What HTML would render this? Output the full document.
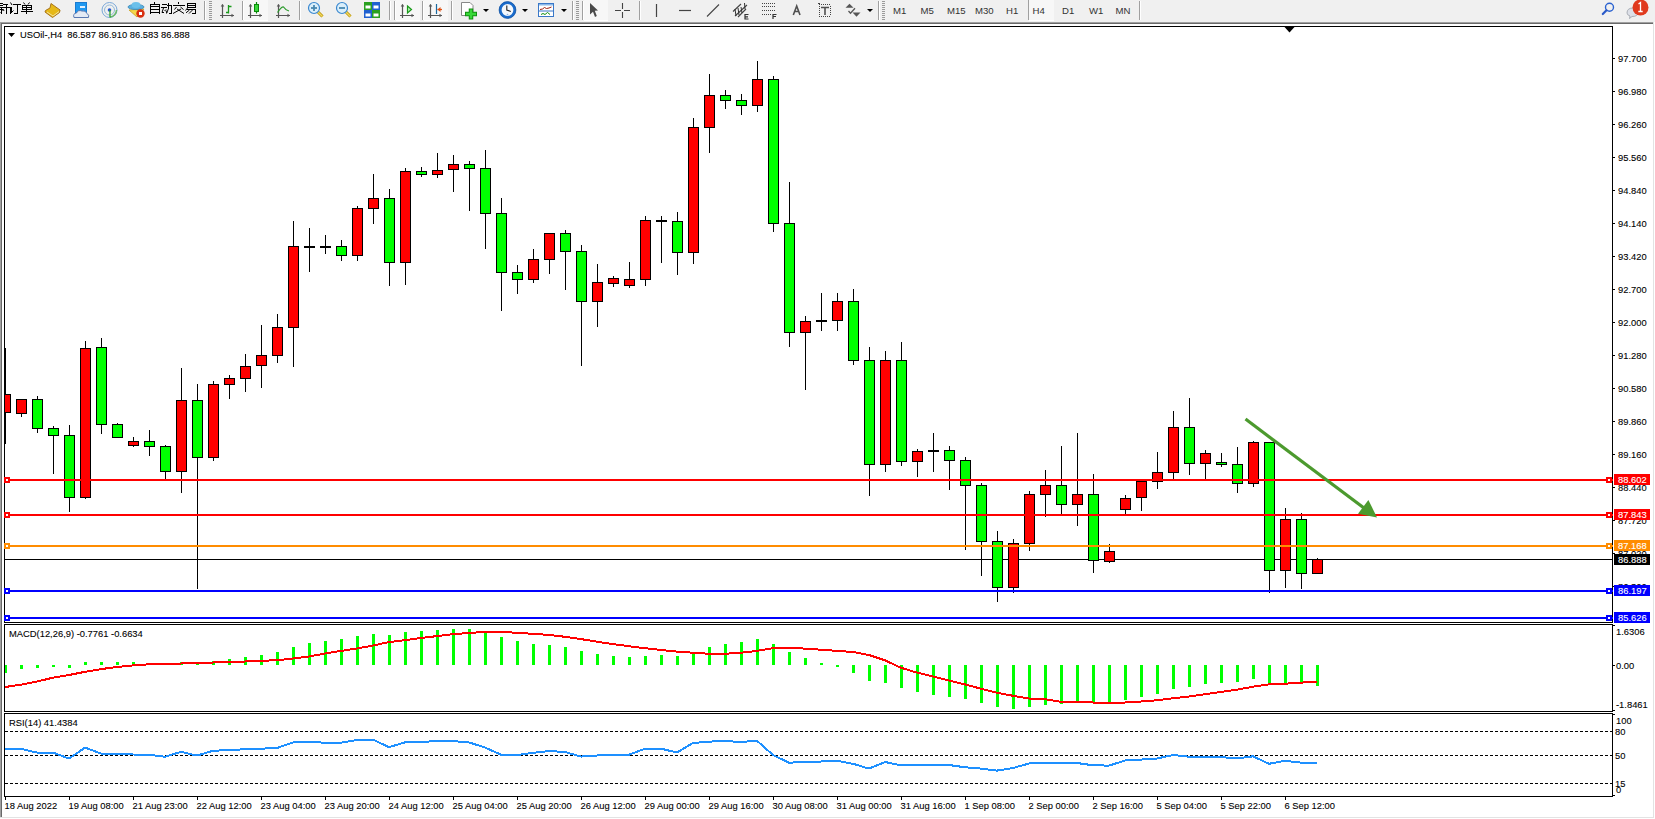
<!DOCTYPE html><html><head><meta charset="utf-8"><style>html,body{margin:0;padding:0;width:1655px;height:819px;overflow:hidden;background:#fff}svg{display:block}text{font-family:"Liberation Sans",sans-serif}</style></head><body>
<svg width="1655" height="819" viewBox="0 0 1655 819">
<rect x="0" y="0" width="1655" height="22" fill="#f0f0f0"/>
<g shape-rendering="crispEdges">
<rect x="0" y="22" width="1654" height="1" fill="#a0a0a0"/>
<rect x="1" y="23" width="1652" height="1" fill="#696969"/>
<rect x="0" y="22" width="1" height="796" fill="#a0a0a0"/>
<rect x="1" y="23" width="1" height="794" fill="#696969"/>
<rect x="1653" y="22" width="1" height="796" fill="#e3e3e3"/>
<rect x="0" y="817" width="1654" height="1" fill="#e3e3e3"/>
<rect x="4.5" y="26.5" width="1608" height="596" fill="none" stroke="#000" stroke-width="1"/>
<rect x="4.5" y="624.5" width="1608" height="87" fill="none" stroke="#000" stroke-width="1"/>
<rect x="4.5" y="713.5" width="1608" height="83" fill="none" stroke="#000" stroke-width="1"/>
</g>
<g>
<path d="M0 3.5H3M0 5.5H3M0 7.5H12M0 9.5H3M1.5 7V14M3 4.5H8M6.5 5V14M10.5 7V14" stroke="#000" stroke-width="1" fill="none" shape-rendering="crispEdges"/>
<path d="M0.5 12.5L2.5 10.5 M3 9L4 11" stroke="#000" stroke-width="1" fill="none"/>
<path d="M11.5 8V13M13 4.5H21M17.5 4V14M14 13.5H18" stroke="#000" stroke-width="1" fill="none" shape-rendering="crispEdges"/>
<path d="M10.5 2.5L12 5 M11.5 12.5L13.5 10.5" stroke="#000" stroke-width="1" fill="none"/>
<path d="M22 5.5H32M22 7.5H32M22 9.5H32M22.5 5V10M31.5 5V10M21 11.5H33M26.5 5V14" stroke="#000" stroke-width="1" fill="none" shape-rendering="crispEdges"/>
<path d="M23.5 2.5L25 4.5 M29.5 2.5L28 4.5" stroke="#000" stroke-width="1" fill="none"/>
<polygon points="51,3.5 60,10 59.5,12.5 52.5,17.5 45,12 45.5,10.5 50,8" fill="#e6b817" stroke="#a8741a" stroke-width="1"/>
<path d="M47 12 L53 16 L59 11.5" stroke="#f4e4a0" stroke-width="1" fill="none"/>
<rect x="75.5" y="2.5" width="11" height="10" fill="#1e98f0" stroke="#1a7ad0" stroke-width="1"/>
<rect x="80" y="6" width="5" height="2" fill="#e0f0ff"/>
<path d="M74 17.5 Q72.5 13.5 76.5 13 Q78 9.5 82 11 Q85.5 10 87 13.5 Q89.5 15 88.5 17.5 Z" fill="#e4eaf4" stroke="#5a78b0" stroke-width="1"/>
<circle cx="109.5" cy="10" r="7.5" fill="none" stroke="#7aa8d8" stroke-width="1"/>
<circle cx="109.5" cy="10" r="5" fill="none" stroke="#90b8d8" stroke-width="1"/>
<path d="M116.5 10 A7 7 0 0 1 110 17" stroke="#6ab86a" stroke-width="1.5" fill="none"/>
<circle cx="109.5" cy="10" r="1.8" fill="#2a5ad0"/>
<path d="M110 10 V17.5" stroke="#2aa02a" stroke-width="1.3"/>
<polygon points="129,10 144,9 137,17" fill="#f4d84a" stroke="#c8a020" stroke-width="0.8"/>
<ellipse cx="136" cy="7" rx="8" ry="2.6" fill="#5ab0e0" stroke="#3a88b8" stroke-width="0.8"/>
<ellipse cx="136" cy="5" rx="4.5" ry="3" fill="#6cc0ea"/>
<circle cx="140.5" cy="13.5" r="4.2" fill="#d83010"/>
<rect x="139" y="12" width="3" height="3" fill="#fff"/>
<path d="M154.5 2V4M150.5 4V14M159.5 4V14M150 4.5H160M150 6.5H160M150 9.5H160M150 12.5H160M162 4.5H167M161 7.5H167M167 5.5H172M171.5 5V14M169 13.5H172M168.5 3V9M178.5 2V4M173 5.5H185M187 3.5H196M187 5.5H196M187 7.5H196M187.5 3V8M195.5 3V8M187 9.5H196M195.5 9V14M192 13.5H196" stroke="#000" stroke-width="1" fill="none" shape-rendering="crispEdges"/>
<path d="M163.5 8L162 12.5 H164 M164.5 11L166 9.5 M166 10.5L166.8 13 M168.5 8.5L166.5 13.5 M176.5 7L174.5 9.5 M180.5 7L183.5 9.5 M177 9L184 13.5 M181 9L173 13.5 M187.5 8L185.5 10.5 M189.5 10L186 12.8 M192.5 10L189 13.5" stroke="#000" stroke-width="1" fill="none"/>
<rect x="204" y="1" width="1" height="19" fill="#a0a0a0"/><rect x="205" y="1" width="1" height="19" fill="#ffffff"/>
<rect x="209" y="1" width="3" height="1" fill="#9a9a9a"/>
<rect x="209" y="3" width="3" height="1" fill="#9a9a9a"/>
<rect x="209" y="5" width="3" height="1" fill="#9a9a9a"/>
<rect x="209" y="7" width="3" height="1" fill="#9a9a9a"/>
<rect x="209" y="9" width="3" height="1" fill="#9a9a9a"/>
<rect x="209" y="11" width="3" height="1" fill="#9a9a9a"/>
<rect x="209" y="13" width="3" height="1" fill="#9a9a9a"/>
<rect x="209" y="15" width="3" height="1" fill="#9a9a9a"/>
<rect x="209" y="17" width="3" height="1" fill="#9a9a9a"/>
<rect x="209" y="19" width="3" height="1" fill="#9a9a9a"/>
<path d="M222.5 4.5 V18 M220 15.5 H234" stroke="#555555" stroke-width="1.2" fill="none"/>
<path d="M220.7 6.5 L222.5 4 L224.3 6.5 Z M231.5 13.7 L234 15.5 L231.5 17.3 Z" fill="#555555"/>
<path d="M228.5 5 V13.5 M228.5 6.5 H231.5 M226 12.5 H228.5" stroke="#1a9a1a" stroke-width="1.3" fill="none"/>
<rect x="242" y="1" width="1" height="19" fill="#a0a0a0"/><rect x="243" y="1" width="1" height="19" fill="#ffffff"/>
<rect x="244" y="0" width="24" height="21" fill="#f7f7f7"/><rect x="244" y="20" width="24" height="1" fill="#ffffff"/>
<path d="M250.5 4.5 V18 M248 15.5 H262" stroke="#555555" stroke-width="1.2" fill="none"/>
<path d="M248.7 6.5 L250.5 4 L252.3 6.5 Z M259.5 13.7 L262 15.5 L259.5 17.3 Z" fill="#555555"/>
<path d="M256.5 2 V13.5" stroke="#0a8a0a" stroke-width="1.2"/><rect x="254.5" y="4.5" width="4" height="7" fill="#3ad83a" stroke="#0a8a0a" stroke-width="1"/>
<path d="M278.5 4.5 V18 M276 15.5 H290" stroke="#555555" stroke-width="1.2" fill="none"/>
<path d="M276.7 6.5 L278.5 4 L280.3 6.5 Z M287.5 13.7 L290 15.5 L287.5 17.3 Z" fill="#555555"/>
<path d="M277.5 12.5 Q282.5 5 284 7.5 T289 11" stroke="#2a9a2a" stroke-width="1.2" fill="none"/>
<rect x="299" y="1" width="1" height="19" fill="#a0a0a0"/><rect x="300" y="1" width="1" height="19" fill="#ffffff"/>
<path d="M317.5 11.5 L322.5 16.5" stroke="#b89000" stroke-width="3"/><path d="M317.5 11.5 L322.5 16.5" stroke="#f0d860" stroke-width="1.5"/>
<circle cx="314" cy="8" r="5.5" fill="#daeefa" stroke="#3a88d0" stroke-width="1.2"/>
<path d="M311 8 H317" stroke="#4a88b0" stroke-width="1.8"/>
<path d="M314 5 V11" stroke="#4a88b0" stroke-width="1.8"/>
<path d="M345.5 11.5 L350.5 16.5" stroke="#b89000" stroke-width="3"/><path d="M345.5 11.5 L350.5 16.5" stroke="#f0d860" stroke-width="1.5"/>
<circle cx="342" cy="8" r="5.5" fill="#daeefa" stroke="#3a88d0" stroke-width="1.2"/>
<path d="M339 8 H345" stroke="#4a88b0" stroke-width="1.8"/>
<rect x="364" y="2" width="8" height="8" fill="#2aa020"/><rect x="365.5" y="5.5" width="5" height="3" fill="#fff"/>
<rect x="372" y="2" width="8" height="8" fill="#2060d0"/><rect x="373.5" y="5.5" width="5" height="3" fill="#fff"/>
<rect x="364" y="10" width="8" height="8" fill="#2060d0"/><rect x="365.5" y="13.5" width="5" height="3" fill="#fff"/>
<rect x="372" y="10" width="8" height="8" fill="#2aa020"/><rect x="373.5" y="13.5" width="5" height="3" fill="#fff"/>
<rect x="389" y="1" width="1" height="19" fill="#a0a0a0"/><rect x="390" y="1" width="1" height="19" fill="#ffffff"/>
<rect x="394" y="1" width="1" height="19" fill="#a0a0a0"/><rect x="395" y="1" width="1" height="19" fill="#ffffff"/>
<rect x="396" y="0" width="24" height="21" fill="#f7f7f7"/><rect x="396" y="20" width="24" height="1" fill="#ffffff"/>
<path d="M402.5 4.5 V18 M400 15.5 H414" stroke="#555555" stroke-width="1.2" fill="none"/>
<path d="M400.7 6.5 L402.5 4 L404.3 6.5 Z M411.5 13.7 L414 15.5 L411.5 17.3 Z" fill="#555555"/>
<polygon points="407.5,6 411.5,9.5 407.5,13" fill="#b0f0b0" stroke="#1a9a1a" stroke-width="1.2"/>
<rect x="422" y="1" width="1" height="19" fill="#a0a0a0"/><rect x="423" y="1" width="1" height="19" fill="#ffffff"/>
<rect x="424" y="0" width="24" height="21" fill="#f7f7f7"/><rect x="424" y="20" width="24" height="1" fill="#ffffff"/>
<path d="M430.5 4.5 V18 M428 15.5 H442" stroke="#555555" stroke-width="1.2" fill="none"/>
<path d="M428.7 6.5 L430.5 4 L432.3 6.5 Z M439.5 13.7 L442 15.5 L439.5 17.3 Z" fill="#555555"/>
<path d="M436.5 4 V14" stroke="#1a6aa0" stroke-width="1.2"/><path d="M437.5 9.5 H442" stroke="#e05010" stroke-width="1.3"/><polygon points="437.5,9.5 440.5,7 440.5,12" fill="#e05010"/>
<rect x="451" y="1" width="1" height="19" fill="#a0a0a0"/><rect x="452" y="1" width="1" height="19" fill="#ffffff"/>
<path d="M461.5 2.5 H470 L473 5.5 V15.5 H461.5 Z" fill="#fff" stroke="#888" stroke-width="1"/>
<path d="M465 14 H477 M471 8.5 V19.5" stroke="#109010" stroke-width="4.5"/><path d="M466 14 H476 M471 9.5 V18.5" stroke="#38d838" stroke-width="2.5"/>
<polygon points="483,9 489,9 486,12" fill="#000"/>
<circle cx="507.5" cy="10" r="7.2" fill="#f4f8fc" stroke="#1a6ccc" stroke-width="2.6"/><circle cx="507.5" cy="10" r="8.4" fill="none" stroke="#0c4c9c" stroke-width="0.7"/><path d="M506.8 5.5 V10 L510.8 11.5" stroke="#222" stroke-width="1.1" fill="none"/><circle cx="507.5" cy="14.5" r="0.8" fill="#8ab4e8"/>
<polygon points="522,9 528,9 525,12" fill="#000"/>
<rect x="538.5" y="3.5" width="15" height="13" fill="#fff" stroke="#3a78c8" stroke-width="1"/><rect x="539" y="4" width="14" height="1.5" fill="#8ab8e8"/><path d="M539 11 H553" stroke="#3a78c8" stroke-width="1"/>
<path d="M540 9.5 L542.5 9 L544.5 7.5 L546.5 8.5 L549 8 L551.5 7" stroke="#a02010" stroke-width="1" fill="none"/><path d="M541 14.5 L543 13.5 L545 14.5 L547.5 12.5 L550 14.5" stroke="#109010" stroke-width="1" fill="none"/>
<polygon points="561,9 567,9 564,12" fill="#000"/>
<rect x="572" y="1" width="1" height="19" fill="#a0a0a0"/><rect x="573" y="1" width="1" height="19" fill="#ffffff"/>
<rect x="576" y="1" width="3" height="1" fill="#9a9a9a"/>
<rect x="576" y="3" width="3" height="1" fill="#9a9a9a"/>
<rect x="576" y="5" width="3" height="1" fill="#9a9a9a"/>
<rect x="576" y="7" width="3" height="1" fill="#9a9a9a"/>
<rect x="576" y="9" width="3" height="1" fill="#9a9a9a"/>
<rect x="576" y="11" width="3" height="1" fill="#9a9a9a"/>
<rect x="576" y="13" width="3" height="1" fill="#9a9a9a"/>
<rect x="576" y="15" width="3" height="1" fill="#9a9a9a"/>
<rect x="576" y="17" width="3" height="1" fill="#9a9a9a"/>
<rect x="576" y="19" width="3" height="1" fill="#9a9a9a"/>
<rect x="582" y="1" width="1" height="19" fill="#a0a0a0"/><rect x="583" y="1" width="1" height="19" fill="#ffffff"/>
<rect x="584" y="0" width="24" height="21" fill="#f7f7f7"/><rect x="584" y="20" width="24" height="1" fill="#ffffff"/>
<polygon points="590,3 598,10.5 594.8,10.8 596.8,16 595,17 593,11.8 590,14.5" fill="#4a4a4a"/>
<path d="M622.5 3 V9 M622.5 12 V18 M615 10.5 H621 M624 10.5 H630" stroke="#444" stroke-width="1.1"/>
<rect x="639" y="1" width="1" height="19" fill="#a0a0a0"/><rect x="640" y="1" width="1" height="19" fill="#ffffff"/>
<path d="M656.5 4 V17" stroke="#444" stroke-width="1.2"/>
<path d="M679 10.5 H691" stroke="#444" stroke-width="1.2"/>
<path d="M707 16.5 L719 4.5" stroke="#444" stroke-width="1.1"/>
<path d="M733 11.5 L741 4 M735 16 L747 5 M738 17 L746 9" stroke="#444" stroke-width="1.1"/><path d="M735 9 L736 16 M738 8 L739 15 M741 7 L742 13 M744.5 3 L745 9" stroke="#333" stroke-width="1"/>
<path d="M748.5 14.5 H745 V19 H748.5 M745 16.8 H748" stroke="#333" stroke-width="1.2" fill="none"/>
<path d="M762 3.5 H775 M762 6.5 H775 M762 10.5 H775 M762 14.5 H771" stroke="#444" stroke-width="1" stroke-dasharray="1,1" fill="none"/>
<path d="M776.5 14.5 H773 V19 M773 16.5 H776" stroke="#333" stroke-width="1.2" fill="none"/>
<path d="M793.3 15 L796.7 6 L800 15 M794.6 11.5 H798.8" stroke="#505050" stroke-width="1.6" fill="none"/>
<g fill="#444" shape-rendering="crispEdges"><rect x="819" y="4" width="1" height="1"/><rect x="819" y="16" width="1" height="1"/><rect x="821" y="4" width="1" height="1"/><rect x="821" y="16" width="1" height="1"/><rect x="823" y="4" width="1" height="1"/><rect x="823" y="16" width="1" height="1"/><rect x="825" y="4" width="1" height="1"/><rect x="825" y="16" width="1" height="1"/><rect x="827" y="4" width="1" height="1"/><rect x="827" y="16" width="1" height="1"/><rect x="829" y="4" width="1" height="1"/><rect x="829" y="16" width="1" height="1"/><rect x="819" y="6" width="1" height="1"/><rect x="830" y="6" width="1" height="1"/><rect x="819" y="8" width="1" height="1"/><rect x="830" y="8" width="1" height="1"/><rect x="819" y="10" width="1" height="1"/><rect x="830" y="10" width="1" height="1"/><rect x="819" y="12" width="1" height="1"/><rect x="830" y="12" width="1" height="1"/><rect x="819" y="14" width="1" height="1"/><rect x="830" y="14" width="1" height="1"/><rect x="818" y="3" width="2" height="1"/></g>
<path d="M821 7.5 H829 M825 7.5 V15" stroke="#505050" stroke-width="1.6" fill="none"/>
<polygon points="849.5,3.8 853.5,7.8 845.5,7.8" fill="#555"/><polygon points="852.5,12.5 860.5,12.5 856.5,16.8" fill="#555"/><path d="M848.5 11 L850.5 13.2 L855 8.2" stroke="#555" stroke-width="1.3" fill="none"/>
<polygon points="867,9 873,9 870,12" fill="#000"/>
<rect x="878" y="1" width="1" height="19" fill="#a0a0a0"/><rect x="879" y="1" width="1" height="19" fill="#ffffff"/>
<rect x="882" y="1" width="3" height="1" fill="#9a9a9a"/>
<rect x="882" y="3" width="3" height="1" fill="#9a9a9a"/>
<rect x="882" y="5" width="3" height="1" fill="#9a9a9a"/>
<rect x="882" y="7" width="3" height="1" fill="#9a9a9a"/>
<rect x="882" y="9" width="3" height="1" fill="#9a9a9a"/>
<rect x="882" y="11" width="3" height="1" fill="#9a9a9a"/>
<rect x="882" y="13" width="3" height="1" fill="#9a9a9a"/>
<rect x="882" y="15" width="3" height="1" fill="#9a9a9a"/>
<rect x="882" y="17" width="3" height="1" fill="#9a9a9a"/>
<rect x="882" y="19" width="3" height="1" fill="#9a9a9a"/>
<rect x="1028" y="0" width="1" height="20" fill="#a0a0a0"/>
<rect x="1029" y="0" width="25" height="21" fill="#f7f7f7"/><rect x="1029" y="20" width="25" height="1" fill="#ffffff"/>
<text x="893" y="13.5" font-size="9.6" fill="#333">M1</text>
<text x="920.5" y="13.5" font-size="9.6" fill="#333">M5</text>
<text x="947" y="13.5" font-size="9.6" fill="#333">M15</text>
<text x="975" y="13.5" font-size="9.6" fill="#333">M30</text>
<text x="1006" y="13.5" font-size="9.6" fill="#333">H1</text>
<text x="1032.5" y="13.5" font-size="9.6" fill="#333">H4</text>
<text x="1062" y="13.5" font-size="9.6" fill="#333">D1</text>
<text x="1089" y="13.5" font-size="9.6" fill="#333">W1</text>
<text x="1115.5" y="13.5" font-size="9.6" fill="#333">MN</text>
<!--H4HL-->
<rect x="1139" y="1" width="1" height="19" fill="#a0a0a0"/><rect x="1140" y="1" width="1" height="19" fill="#ffffff"/>
<circle cx="1609.5" cy="7.3" r="4" fill="none" stroke="#2a62d0" stroke-width="1.4"/><path d="M1606.5 10.3 L1602.8 14" stroke="#2a5ac8" stroke-width="2.2" stroke-linecap="round"/>
<path d="M1627 13 Q1627 8 1633 8 Q1638 8 1638 12.5 Q1638 16.5 1632 16.5 L1629.5 18.5 L1630 16 Q1627 15 1627 13Z" fill="#dde0e8" stroke="#9aa0a8" stroke-width="0.8"/>
<circle cx="1640.5" cy="7.5" r="8" fill="#e03a1e"/><path d="M1638.5 4 L1640.5 2.5 V11.5 M1638.3 11.5 H1642.7" stroke="#fff" stroke-width="1.3" fill="none"/>
</g>
<defs><clipPath id="cm"><rect x="5" y="27" width="1607" height="595"/></clipPath><clipPath id="cd"><rect x="5" y="625" width="1607" height="86"/></clipPath><clipPath id="cr"><rect x="5" y="714" width="1607" height="82"/></clipPath></defs>
<g clip-path="url(#cm)" shape-rendering="crispEdges">
<rect x="5" y="559" width="1607" height="1" fill="#000"/>
<rect x="5" y="348" width="1" height="96" fill="#000"/>
<rect x="0" y="394" width="11" height="19" fill="#000"/>
<rect x="1" y="395" width="9" height="17" fill="#ff0000"/>
<rect x="21" y="399" width="1" height="18" fill="#000"/>
<rect x="16" y="399" width="11" height="15" fill="#000"/>
<rect x="17" y="400" width="9" height="13" fill="#ff0000"/>
<rect x="37" y="396" width="1" height="37" fill="#000"/>
<rect x="32" y="399" width="11" height="30" fill="#000"/>
<rect x="33" y="400" width="9" height="28" fill="#00ff00"/>
<rect x="53" y="426" width="1" height="48" fill="#000"/>
<rect x="48" y="428" width="11" height="8" fill="#000"/>
<rect x="49" y="429" width="9" height="6" fill="#00ff00"/>
<rect x="69" y="425" width="1" height="87" fill="#000"/>
<rect x="64" y="435" width="11" height="63" fill="#000"/>
<rect x="65" y="436" width="9" height="61" fill="#00ff00"/>
<rect x="85" y="341" width="1" height="158" fill="#000"/>
<rect x="80" y="348" width="11" height="150" fill="#000"/>
<rect x="81" y="349" width="9" height="148" fill="#ff0000"/>
<rect x="101" y="338" width="1" height="96" fill="#000"/>
<rect x="96" y="347" width="11" height="78" fill="#000"/>
<rect x="97" y="348" width="9" height="76" fill="#00ff00"/>
<rect x="117" y="423" width="1" height="15" fill="#000"/>
<rect x="112" y="424" width="11" height="14" fill="#000"/>
<rect x="113" y="425" width="9" height="12" fill="#00ff00"/>
<rect x="133" y="437" width="1" height="10" fill="#000"/>
<rect x="128" y="441" width="11" height="5" fill="#000"/>
<rect x="129" y="442" width="9" height="3" fill="#ff0000"/>
<rect x="149" y="430" width="1" height="26" fill="#000"/>
<rect x="144" y="441" width="11" height="6" fill="#000"/>
<rect x="145" y="442" width="9" height="4" fill="#00ff00"/>
<rect x="165" y="445" width="1" height="34" fill="#000"/>
<rect x="160" y="446" width="11" height="26" fill="#000"/>
<rect x="161" y="447" width="9" height="24" fill="#00ff00"/>
<rect x="181" y="368" width="1" height="125" fill="#000"/>
<rect x="176" y="400" width="11" height="72" fill="#000"/>
<rect x="177" y="401" width="9" height="70" fill="#ff0000"/>
<rect x="197" y="384" width="1" height="205" fill="#000"/>
<rect x="192" y="400" width="11" height="58" fill="#000"/>
<rect x="193" y="401" width="9" height="56" fill="#00ff00"/>
<rect x="213" y="381" width="1" height="80" fill="#000"/>
<rect x="208" y="384" width="11" height="74" fill="#000"/>
<rect x="209" y="385" width="9" height="72" fill="#ff0000"/>
<rect x="229" y="375" width="1" height="24" fill="#000"/>
<rect x="224" y="378" width="11" height="7" fill="#000"/>
<rect x="225" y="379" width="9" height="5" fill="#ff0000"/>
<rect x="245" y="354" width="1" height="38" fill="#000"/>
<rect x="240" y="366" width="11" height="13" fill="#000"/>
<rect x="241" y="367" width="9" height="11" fill="#ff0000"/>
<rect x="261" y="325" width="1" height="63" fill="#000"/>
<rect x="256" y="355" width="11" height="11" fill="#000"/>
<rect x="257" y="356" width="9" height="9" fill="#ff0000"/>
<rect x="277" y="314" width="1" height="49" fill="#000"/>
<rect x="272" y="327" width="11" height="29" fill="#000"/>
<rect x="273" y="328" width="9" height="27" fill="#ff0000"/>
<rect x="293" y="221" width="1" height="146" fill="#000"/>
<rect x="288" y="246" width="11" height="82" fill="#000"/>
<rect x="289" y="247" width="9" height="80" fill="#ff0000"/>
<rect x="309" y="228" width="1" height="44" fill="#000"/>
<rect x="304" y="246" width="11" height="2" fill="#000"/>
<rect x="325" y="235" width="1" height="19" fill="#000"/>
<rect x="320" y="246" width="11" height="2" fill="#000"/>
<rect x="341" y="240" width="1" height="21" fill="#000"/>
<rect x="336" y="246" width="11" height="10" fill="#000"/>
<rect x="337" y="247" width="9" height="8" fill="#00ff00"/>
<rect x="357" y="206" width="1" height="55" fill="#000"/>
<rect x="352" y="208" width="11" height="48" fill="#000"/>
<rect x="353" y="209" width="9" height="46" fill="#ff0000"/>
<rect x="373" y="174" width="1" height="50" fill="#000"/>
<rect x="368" y="198" width="11" height="11" fill="#000"/>
<rect x="369" y="199" width="9" height="9" fill="#ff0000"/>
<rect x="389" y="189" width="1" height="97" fill="#000"/>
<rect x="384" y="198" width="11" height="65" fill="#000"/>
<rect x="385" y="199" width="9" height="63" fill="#00ff00"/>
<rect x="405" y="168" width="1" height="117" fill="#000"/>
<rect x="400" y="171" width="11" height="92" fill="#000"/>
<rect x="401" y="172" width="9" height="90" fill="#ff0000"/>
<rect x="421" y="167" width="1" height="10" fill="#000"/>
<rect x="416" y="171" width="11" height="4" fill="#000"/>
<rect x="417" y="172" width="9" height="2" fill="#00ff00"/>
<rect x="437" y="153" width="1" height="25" fill="#000"/>
<rect x="432" y="170" width="11" height="5" fill="#000"/>
<rect x="433" y="171" width="9" height="3" fill="#ff0000"/>
<rect x="453" y="155" width="1" height="37" fill="#000"/>
<rect x="448" y="164" width="11" height="6" fill="#000"/>
<rect x="449" y="165" width="9" height="4" fill="#ff0000"/>
<rect x="469" y="161" width="1" height="50" fill="#000"/>
<rect x="464" y="164" width="11" height="5" fill="#000"/>
<rect x="465" y="165" width="9" height="3" fill="#00ff00"/>
<rect x="485" y="150" width="1" height="99" fill="#000"/>
<rect x="480" y="168" width="11" height="46" fill="#000"/>
<rect x="481" y="169" width="9" height="44" fill="#00ff00"/>
<rect x="501" y="198" width="1" height="113" fill="#000"/>
<rect x="496" y="213" width="11" height="60" fill="#000"/>
<rect x="497" y="214" width="9" height="58" fill="#00ff00"/>
<rect x="517" y="265" width="1" height="29" fill="#000"/>
<rect x="512" y="272" width="11" height="8" fill="#000"/>
<rect x="513" y="273" width="9" height="6" fill="#00ff00"/>
<rect x="533" y="249" width="1" height="34" fill="#000"/>
<rect x="528" y="259" width="11" height="21" fill="#000"/>
<rect x="529" y="260" width="9" height="19" fill="#ff0000"/>
<rect x="549" y="233" width="1" height="41" fill="#000"/>
<rect x="544" y="233" width="11" height="27" fill="#000"/>
<rect x="545" y="234" width="9" height="25" fill="#ff0000"/>
<rect x="565" y="230" width="1" height="60" fill="#000"/>
<rect x="560" y="233" width="11" height="19" fill="#000"/>
<rect x="561" y="234" width="9" height="17" fill="#00ff00"/>
<rect x="581" y="245" width="1" height="121" fill="#000"/>
<rect x="576" y="251" width="11" height="51" fill="#000"/>
<rect x="577" y="252" width="9" height="49" fill="#00ff00"/>
<rect x="597" y="264" width="1" height="63" fill="#000"/>
<rect x="592" y="282" width="11" height="20" fill="#000"/>
<rect x="593" y="283" width="9" height="18" fill="#ff0000"/>
<rect x="613" y="276" width="1" height="11" fill="#000"/>
<rect x="608" y="278" width="11" height="6" fill="#000"/>
<rect x="609" y="279" width="9" height="4" fill="#ff0000"/>
<rect x="629" y="262" width="1" height="26" fill="#000"/>
<rect x="624" y="279" width="11" height="7" fill="#000"/>
<rect x="625" y="280" width="9" height="5" fill="#ff0000"/>
<rect x="645" y="216" width="1" height="70" fill="#000"/>
<rect x="640" y="220" width="11" height="60" fill="#000"/>
<rect x="641" y="221" width="9" height="58" fill="#ff0000"/>
<rect x="661" y="216" width="1" height="47" fill="#000"/>
<rect x="656" y="220" width="11" height="2" fill="#000"/>
<rect x="677" y="212" width="1" height="63" fill="#000"/>
<rect x="672" y="221" width="11" height="32" fill="#000"/>
<rect x="673" y="222" width="9" height="30" fill="#00ff00"/>
<rect x="693" y="118" width="1" height="146" fill="#000"/>
<rect x="688" y="127" width="11" height="126" fill="#000"/>
<rect x="689" y="128" width="9" height="124" fill="#ff0000"/>
<rect x="709" y="74" width="1" height="79" fill="#000"/>
<rect x="704" y="95" width="11" height="33" fill="#000"/>
<rect x="705" y="96" width="9" height="31" fill="#ff0000"/>
<rect x="725" y="90" width="1" height="19" fill="#000"/>
<rect x="720" y="95" width="11" height="6" fill="#000"/>
<rect x="721" y="96" width="9" height="4" fill="#00ff00"/>
<rect x="741" y="94" width="1" height="21" fill="#000"/>
<rect x="736" y="100" width="11" height="6" fill="#000"/>
<rect x="737" y="101" width="9" height="4" fill="#00ff00"/>
<rect x="757" y="61" width="1" height="51" fill="#000"/>
<rect x="752" y="79" width="11" height="27" fill="#000"/>
<rect x="753" y="80" width="9" height="25" fill="#ff0000"/>
<rect x="773" y="76" width="1" height="156" fill="#000"/>
<rect x="768" y="79" width="11" height="145" fill="#000"/>
<rect x="769" y="80" width="9" height="143" fill="#00ff00"/>
<rect x="789" y="182" width="1" height="165" fill="#000"/>
<rect x="784" y="223" width="11" height="110" fill="#000"/>
<rect x="785" y="224" width="9" height="108" fill="#00ff00"/>
<rect x="805" y="316" width="1" height="74" fill="#000"/>
<rect x="800" y="321" width="11" height="12" fill="#000"/>
<rect x="801" y="322" width="9" height="10" fill="#ff0000"/>
<rect x="821" y="293" width="1" height="38" fill="#000"/>
<rect x="816" y="320" width="11" height="2" fill="#000"/>
<rect x="837" y="293" width="1" height="38" fill="#000"/>
<rect x="832" y="301" width="11" height="20" fill="#000"/>
<rect x="833" y="302" width="9" height="18" fill="#ff0000"/>
<rect x="853" y="289" width="1" height="76" fill="#000"/>
<rect x="848" y="301" width="11" height="60" fill="#000"/>
<rect x="849" y="302" width="9" height="58" fill="#00ff00"/>
<rect x="869" y="347" width="1" height="149" fill="#000"/>
<rect x="864" y="360" width="11" height="105" fill="#000"/>
<rect x="865" y="361" width="9" height="103" fill="#00ff00"/>
<rect x="885" y="351" width="1" height="121" fill="#000"/>
<rect x="880" y="360" width="11" height="105" fill="#000"/>
<rect x="881" y="361" width="9" height="103" fill="#ff0000"/>
<rect x="901" y="342" width="1" height="124" fill="#000"/>
<rect x="896" y="360" width="11" height="102" fill="#000"/>
<rect x="897" y="361" width="9" height="100" fill="#00ff00"/>
<rect x="917" y="449" width="1" height="28" fill="#000"/>
<rect x="912" y="451" width="11" height="11" fill="#000"/>
<rect x="913" y="452" width="9" height="9" fill="#ff0000"/>
<rect x="933" y="433" width="1" height="39" fill="#000"/>
<rect x="928" y="450" width="11" height="2" fill="#000"/>
<rect x="949" y="446" width="1" height="44" fill="#000"/>
<rect x="944" y="450" width="11" height="11" fill="#000"/>
<rect x="945" y="451" width="9" height="9" fill="#00ff00"/>
<rect x="965" y="457" width="1" height="93" fill="#000"/>
<rect x="960" y="460" width="11" height="26" fill="#000"/>
<rect x="961" y="461" width="9" height="24" fill="#00ff00"/>
<rect x="981" y="483" width="1" height="93" fill="#000"/>
<rect x="976" y="485" width="11" height="57" fill="#000"/>
<rect x="977" y="486" width="9" height="55" fill="#00ff00"/>
<rect x="997" y="531" width="1" height="71" fill="#000"/>
<rect x="992" y="541" width="11" height="47" fill="#000"/>
<rect x="993" y="542" width="9" height="45" fill="#00ff00"/>
<rect x="1013" y="539" width="1" height="54" fill="#000"/>
<rect x="1008" y="543" width="11" height="45" fill="#000"/>
<rect x="1009" y="544" width="9" height="43" fill="#ff0000"/>
<rect x="1029" y="491" width="1" height="60" fill="#000"/>
<rect x="1024" y="494" width="11" height="50" fill="#000"/>
<rect x="1025" y="495" width="9" height="48" fill="#ff0000"/>
<rect x="1045" y="470" width="1" height="47" fill="#000"/>
<rect x="1040" y="485" width="11" height="10" fill="#000"/>
<rect x="1041" y="486" width="9" height="8" fill="#ff0000"/>
<rect x="1061" y="446" width="1" height="68" fill="#000"/>
<rect x="1056" y="485" width="11" height="20" fill="#000"/>
<rect x="1057" y="486" width="9" height="18" fill="#00ff00"/>
<rect x="1077" y="433" width="1" height="93" fill="#000"/>
<rect x="1072" y="494" width="11" height="11" fill="#000"/>
<rect x="1073" y="495" width="9" height="9" fill="#ff0000"/>
<rect x="1093" y="474" width="1" height="99" fill="#000"/>
<rect x="1088" y="494" width="11" height="67" fill="#000"/>
<rect x="1089" y="495" width="9" height="65" fill="#00ff00"/>
<rect x="1109" y="544" width="1" height="19" fill="#000"/>
<rect x="1104" y="551" width="11" height="11" fill="#000"/>
<rect x="1105" y="552" width="9" height="9" fill="#ff0000"/>
<rect x="1125" y="495" width="1" height="19" fill="#000"/>
<rect x="1120" y="498" width="11" height="12" fill="#000"/>
<rect x="1121" y="499" width="9" height="10" fill="#ff0000"/>
<rect x="1141" y="481" width="1" height="30" fill="#000"/>
<rect x="1136" y="481" width="11" height="17" fill="#000"/>
<rect x="1137" y="482" width="9" height="15" fill="#ff0000"/>
<rect x="1157" y="452" width="1" height="37" fill="#000"/>
<rect x="1152" y="472" width="11" height="10" fill="#000"/>
<rect x="1153" y="473" width="9" height="8" fill="#ff0000"/>
<rect x="1173" y="411" width="1" height="68" fill="#000"/>
<rect x="1168" y="427" width="11" height="46" fill="#000"/>
<rect x="1169" y="428" width="9" height="44" fill="#ff0000"/>
<rect x="1189" y="398" width="1" height="77" fill="#000"/>
<rect x="1184" y="427" width="11" height="37" fill="#000"/>
<rect x="1185" y="428" width="9" height="35" fill="#00ff00"/>
<rect x="1205" y="450" width="1" height="29" fill="#000"/>
<rect x="1200" y="453" width="11" height="11" fill="#000"/>
<rect x="1201" y="454" width="9" height="9" fill="#ff0000"/>
<rect x="1221" y="453" width="1" height="14" fill="#000"/>
<rect x="1216" y="462" width="11" height="3" fill="#000"/>
<rect x="1217" y="463" width="9" height="1" fill="#00ff00"/>
<rect x="1237" y="447" width="1" height="46" fill="#000"/>
<rect x="1232" y="464" width="11" height="20" fill="#000"/>
<rect x="1233" y="465" width="9" height="18" fill="#00ff00"/>
<rect x="1253" y="441" width="1" height="46" fill="#000"/>
<rect x="1248" y="442" width="11" height="42" fill="#000"/>
<rect x="1249" y="443" width="9" height="40" fill="#ff0000"/>
<rect x="1269" y="442" width="1" height="151" fill="#000"/>
<rect x="1264" y="442" width="11" height="129" fill="#000"/>
<rect x="1265" y="443" width="9" height="127" fill="#00ff00"/>
<rect x="1285" y="508" width="1" height="80" fill="#000"/>
<rect x="1280" y="519" width="11" height="52" fill="#000"/>
<rect x="1281" y="520" width="9" height="50" fill="#ff0000"/>
<rect x="1301" y="513" width="1" height="76" fill="#000"/>
<rect x="1296" y="519" width="11" height="55" fill="#000"/>
<rect x="1297" y="520" width="9" height="53" fill="#00ff00"/>
<rect x="1317" y="558" width="1" height="16" fill="#000"/>
<rect x="1312" y="559" width="11" height="15" fill="#000"/>
<rect x="1313" y="560" width="9" height="13" fill="#ff0000"/>
</g><g shape-rendering="crispEdges">
<rect x="4" y="479" width="1609" height="2" fill="#ff0000"/>
<rect x="4" y="477" width="6" height="6" fill="#ff0000"/><rect x="6" y="479" width="2" height="2" fill="#fff"/>
<rect x="1606" y="477" width="6" height="6" fill="#ff0000"/><rect x="1608" y="479" width="2" height="2" fill="#fff"/>
<rect x="4" y="514" width="1609" height="2" fill="#ff0000"/>
<rect x="4" y="512" width="6" height="6" fill="#ff0000"/><rect x="6" y="514" width="2" height="2" fill="#fff"/>
<rect x="1606" y="512" width="6" height="6" fill="#ff0000"/><rect x="1608" y="514" width="2" height="2" fill="#fff"/>
<rect x="4" y="545" width="1609" height="2" fill="#ff8c00"/>
<rect x="4" y="543" width="6" height="6" fill="#ff8c00"/><rect x="6" y="545" width="2" height="2" fill="#fff"/>
<rect x="1606" y="543" width="6" height="6" fill="#ff8c00"/><rect x="1608" y="545" width="2" height="2" fill="#fff"/>
<rect x="4" y="590" width="1609" height="2" fill="#0000ff"/>
<rect x="4" y="588" width="6" height="6" fill="#0000ff"/><rect x="6" y="590" width="2" height="2" fill="#fff"/>
<rect x="1606" y="588" width="6" height="6" fill="#0000ff"/><rect x="1608" y="590" width="2" height="2" fill="#fff"/>
<rect x="4" y="617" width="1609" height="2" fill="#0000ff"/>
<rect x="4" y="615" width="6" height="6" fill="#0000ff"/><rect x="6" y="617" width="2" height="2" fill="#fff"/>
<rect x="1606" y="615" width="6" height="6" fill="#0000ff"/><rect x="1608" y="617" width="2" height="2" fill="#fff"/>
</g>
<g clip-path="url(#cm)"><line x1="1245.5" y1="419" x2="1364" y2="508" stroke="#4c9a2e" stroke-width="3.2" stroke-linecap="butt"/><polygon points="1368.4,500 1358,513.7 1377,517.4" fill="#4c9a2e"/></g>
<polygon points="1284.5,27 1294.5,27 1289.5,32.5" fill="#000"/>
<g clip-path="url(#cd)" shape-rendering="crispEdges">
<rect x="4" y="665" width="3" height="8" fill="#00ff00"/>
<rect x="20" y="665" width="3" height="4" fill="#00ff00"/>
<rect x="36" y="665" width="3" height="3" fill="#00ff00"/>
<rect x="52" y="665" width="3" height="2" fill="#00ff00"/>
<rect x="68" y="665" width="3" height="3" fill="#00ff00"/>
<rect x="84" y="662" width="3" height="3" fill="#00ff00"/>
<rect x="100" y="662" width="3" height="3" fill="#00ff00"/>
<rect x="116" y="662" width="3" height="3" fill="#00ff00"/>
<rect x="132" y="662" width="3" height="3" fill="#00ff00"/>
<rect x="148" y="663" width="3" height="2" fill="#00ff00"/>
<rect x="164" y="663" width="3" height="2" fill="#00ff00"/>
<rect x="180" y="662" width="3" height="3" fill="#00ff00"/>
<rect x="196" y="663" width="3" height="2" fill="#00ff00"/>
<rect x="212" y="661" width="3" height="4" fill="#00ff00"/>
<rect x="228" y="659" width="3" height="6" fill="#00ff00"/>
<rect x="244" y="657" width="3" height="8" fill="#00ff00"/>
<rect x="260" y="655" width="3" height="10" fill="#00ff00"/>
<rect x="276" y="652" width="3" height="13" fill="#00ff00"/>
<rect x="292" y="647" width="3" height="18" fill="#00ff00"/>
<rect x="308" y="643" width="3" height="22" fill="#00ff00"/>
<rect x="324" y="641" width="3" height="24" fill="#00ff00"/>
<rect x="340" y="639" width="3" height="26" fill="#00ff00"/>
<rect x="356" y="636" width="3" height="29" fill="#00ff00"/>
<rect x="372" y="634" width="3" height="31" fill="#00ff00"/>
<rect x="388" y="635" width="3" height="30" fill="#00ff00"/>
<rect x="404" y="632" width="3" height="33" fill="#00ff00"/>
<rect x="420" y="631" width="3" height="34" fill="#00ff00"/>
<rect x="436" y="630" width="3" height="35" fill="#00ff00"/>
<rect x="452" y="629" width="3" height="36" fill="#00ff00"/>
<rect x="468" y="629" width="3" height="36" fill="#00ff00"/>
<rect x="484" y="633" width="3" height="32" fill="#00ff00"/>
<rect x="500" y="637" width="3" height="28" fill="#00ff00"/>
<rect x="516" y="641" width="3" height="24" fill="#00ff00"/>
<rect x="532" y="644" width="3" height="21" fill="#00ff00"/>
<rect x="548" y="645" width="3" height="20" fill="#00ff00"/>
<rect x="564" y="647" width="3" height="18" fill="#00ff00"/>
<rect x="580" y="651" width="3" height="14" fill="#00ff00"/>
<rect x="596" y="654" width="3" height="11" fill="#00ff00"/>
<rect x="612" y="656" width="3" height="9" fill="#00ff00"/>
<rect x="628" y="657" width="3" height="8" fill="#00ff00"/>
<rect x="644" y="656" width="3" height="9" fill="#00ff00"/>
<rect x="660" y="655" width="3" height="10" fill="#00ff00"/>
<rect x="676" y="656" width="3" height="9" fill="#00ff00"/>
<rect x="692" y="652" width="3" height="13" fill="#00ff00"/>
<rect x="708" y="647" width="3" height="18" fill="#00ff00"/>
<rect x="724" y="644" width="3" height="21" fill="#00ff00"/>
<rect x="740" y="642" width="3" height="23" fill="#00ff00"/>
<rect x="756" y="639" width="3" height="26" fill="#00ff00"/>
<rect x="772" y="644" width="3" height="21" fill="#00ff00"/>
<rect x="788" y="652" width="3" height="13" fill="#00ff00"/>
<rect x="804" y="658" width="3" height="7" fill="#00ff00"/>
<rect x="820" y="663" width="3" height="2" fill="#00ff00"/>
<rect x="836" y="665" width="3" height="2" fill="#00ff00"/>
<rect x="852" y="665" width="3" height="8" fill="#00ff00"/>
<rect x="868" y="665" width="3" height="16" fill="#00ff00"/>
<rect x="884" y="665" width="3" height="18" fill="#00ff00"/>
<rect x="900" y="665" width="3" height="23" fill="#00ff00"/>
<rect x="916" y="665" width="3" height="27" fill="#00ff00"/>
<rect x="932" y="665" width="3" height="30" fill="#00ff00"/>
<rect x="948" y="665" width="3" height="32" fill="#00ff00"/>
<rect x="964" y="665" width="3" height="34" fill="#00ff00"/>
<rect x="980" y="665" width="3" height="38" fill="#00ff00"/>
<rect x="996" y="665" width="3" height="42" fill="#00ff00"/>
<rect x="1012" y="665" width="3" height="44" fill="#00ff00"/>
<rect x="1028" y="665" width="3" height="42" fill="#00ff00"/>
<rect x="1044" y="665" width="3" height="40" fill="#00ff00"/>
<rect x="1060" y="665" width="3" height="39" fill="#00ff00"/>
<rect x="1076" y="665" width="3" height="37" fill="#00ff00"/>
<rect x="1092" y="665" width="3" height="38" fill="#00ff00"/>
<rect x="1108" y="665" width="3" height="38" fill="#00ff00"/>
<rect x="1124" y="665" width="3" height="35" fill="#00ff00"/>
<rect x="1140" y="665" width="3" height="32" fill="#00ff00"/>
<rect x="1156" y="665" width="3" height="29" fill="#00ff00"/>
<rect x="1172" y="665" width="3" height="24" fill="#00ff00"/>
<rect x="1188" y="665" width="3" height="22" fill="#00ff00"/>
<rect x="1204" y="665" width="3" height="19" fill="#00ff00"/>
<rect x="1220" y="665" width="3" height="18" fill="#00ff00"/>
<rect x="1236" y="665" width="3" height="17" fill="#00ff00"/>
<rect x="1252" y="665" width="3" height="14" fill="#00ff00"/>
<rect x="1268" y="665" width="3" height="18" fill="#00ff00"/>
<rect x="1284" y="665" width="3" height="18" fill="#00ff00"/>
<rect x="1300" y="665" width="3" height="19" fill="#00ff00"/>
<rect x="1316" y="665" width="3" height="21" fill="#00ff00"/>
</g>
<g clip-path="url(#cd)"><polyline points="5,687 21,684.7 37,681.5 53,677.7 69,675 85,671.8 101,669.1 117,667 133,665.4 149,664.3 165,664 181,663.5 197,663 213,662.5 229,662 245,661.5 261,660.7 277,660.3 293,658.5 309,656.5 325,653.5 341,650.9 357,648.5 373,645.5 389,642.1 405,640.2 421,638 437,636.1 453,634.1 469,633 485,631.9 501,631.9 517,632.8 533,633.8 549,634.9 565,636.8 581,639.1 597,641.7 613,644.1 629,646.2 645,648.2 661,650 677,651.6 693,652.7 709,653.8 725,653.8 741,652.7 757,650.9 773,648.2 789,647.9 805,648.6 821,649.7 837,650.9 853,652 869,655 885,660.3 901,667.8 917,672.6 933,676.6 949,680.6 965,684.4 981,688.7 997,692.7 1013,695.8 1029,698.5 1045,699.2 1061,701.8 1077,701.8 1093,702.5 1109,702.5 1125,702.5 1141,701.5 1157,700.3 1173,698.3 1189,696.5 1205,694.2 1221,692 1237,689.7 1253,686.7 1269,684.4 1285,683.7 1301,682.6 1317,681.9" fill="none" stroke="#ff0000" stroke-width="2" stroke-linejoin="round" shape-rendering="crispEdges"/></g>
<g clip-path="url(#cr)" shape-rendering="crispEdges">
<line x1="5" y1="731.5" x2="1612" y2="731.5" stroke="#000" stroke-width="1" stroke-dasharray="3,2"/>
<line x1="5" y1="755.5" x2="1612" y2="755.5" stroke="#000" stroke-width="1" stroke-dasharray="3,2"/>
<line x1="5" y1="783.5" x2="1612" y2="783.5" stroke="#000" stroke-width="1" stroke-dasharray="3,2"/>
</g>
<g clip-path="url(#cr)"><polyline points="5,748.8 21,748.8 37,752.6 53,752.6 69,758.6 85,747.6 101,753.6 117,754.1 133,754.5 149,754.8 165,756.8 181,751.8 197,755.6 213,750.8 229,750 245,749.3 261,748.7 277,748 293,742.4 309,741.9 325,742.7 341,742.7 357,740 373,739.6 389,747.2 405,742.4 421,741.9 437,741.1 453,741.1 469,742.4 485,747.5 501,754.7 517,755 533,752.9 549,751 565,752 581,756.6 597,755.5 613,754.7 629,754.7 645,748.7 661,748.7 677,752.5 693,743 709,741.6 725,741.1 741,741.9 757,740.8 773,755 789,762.7 805,762 821,761.5 837,760.8 853,763.8 869,768.6 885,762 901,765.3 917,765.3 933,764.9 949,765 965,767.3 981,768.6 997,770.6 1013,768 1029,763.5 1045,763 1061,763 1077,763 1093,765.3 1109,765.6 1125,760.5 1141,759.6 1157,758.5 1173,755 1189,756.7 1205,756.7 1221,757 1237,758.5 1253,756.3 1269,763.8 1285,760.8 1301,762.6 1317,762.7" fill="none" stroke="#1e90ff" stroke-width="2" stroke-linejoin="round" shape-rendering="crispEdges"/></g>
<polygon points="8,33 15,33 11.5,37" fill="#000"/>
<g transform="translate(20,37.5) scale(0.948,1)"><text x="0" y="0" font-size="9.9" fill="#000" stroke="#000" stroke-width="0.1" text-anchor="start" >USOil-,H4&#160;&#160;86.587 86.910 86.583 86.888</text></g>
<g transform="translate(9,636.5) scale(0.948,1)"><text x="0" y="0" font-size="9.9" fill="#000" stroke="#000" stroke-width="0.1" text-anchor="start" >MACD(12,26,9) -0.7761 -0.6634</text></g>
<g transform="translate(9,725.5) scale(0.948,1)"><text x="0" y="0" font-size="9.9" fill="#000" stroke="#000" stroke-width="0.1" text-anchor="start" >RSI(14) 41.4384</text></g>
<g shape-rendering="crispEdges">
<rect x="1613" y="58" width="2" height="1" fill="#000"/>
<rect x="1613" y="91" width="2" height="1" fill="#000"/>
<rect x="1613" y="124" width="2" height="1" fill="#000"/>
<rect x="1613" y="157" width="2" height="1" fill="#000"/>
<rect x="1613" y="190" width="2" height="1" fill="#000"/>
<rect x="1613" y="223" width="2" height="1" fill="#000"/>
<rect x="1613" y="256" width="2" height="1" fill="#000"/>
<rect x="1613" y="289" width="2" height="1" fill="#000"/>
<rect x="1613" y="322" width="2" height="1" fill="#000"/>
<rect x="1613" y="355" width="2" height="1" fill="#000"/>
<rect x="1613" y="388" width="2" height="1" fill="#000"/>
<rect x="1613" y="421" width="2" height="1" fill="#000"/>
<rect x="1613" y="454" width="2" height="1" fill="#000"/>
<rect x="1613" y="487" width="2" height="1" fill="#000"/>
<rect x="1613" y="520" width="2" height="1" fill="#000"/>
<rect x="1613" y="553" width="2" height="1" fill="#000"/>
<rect x="1613" y="586" width="2" height="1" fill="#000"/>
</g>
<g transform="translate(1618,61.5) scale(0.948,1)"><text x="0" y="0" font-size="9.9" fill="#000" stroke="#000" stroke-width="0.1" text-anchor="start" >97.700</text></g>
<g transform="translate(1618,94.5) scale(0.948,1)"><text x="0" y="0" font-size="9.9" fill="#000" stroke="#000" stroke-width="0.1" text-anchor="start" >96.980</text></g>
<g transform="translate(1618,127.5) scale(0.948,1)"><text x="0" y="0" font-size="9.9" fill="#000" stroke="#000" stroke-width="0.1" text-anchor="start" >96.260</text></g>
<g transform="translate(1618,160.5) scale(0.948,1)"><text x="0" y="0" font-size="9.9" fill="#000" stroke="#000" stroke-width="0.1" text-anchor="start" >95.560</text></g>
<g transform="translate(1618,193.5) scale(0.948,1)"><text x="0" y="0" font-size="9.9" fill="#000" stroke="#000" stroke-width="0.1" text-anchor="start" >94.840</text></g>
<g transform="translate(1618,226.5) scale(0.948,1)"><text x="0" y="0" font-size="9.9" fill="#000" stroke="#000" stroke-width="0.1" text-anchor="start" >94.140</text></g>
<g transform="translate(1618,259.5) scale(0.948,1)"><text x="0" y="0" font-size="9.9" fill="#000" stroke="#000" stroke-width="0.1" text-anchor="start" >93.420</text></g>
<g transform="translate(1618,292.5) scale(0.948,1)"><text x="0" y="0" font-size="9.9" fill="#000" stroke="#000" stroke-width="0.1" text-anchor="start" >92.700</text></g>
<g transform="translate(1618,325.5) scale(0.948,1)"><text x="0" y="0" font-size="9.9" fill="#000" stroke="#000" stroke-width="0.1" text-anchor="start" >92.000</text></g>
<g transform="translate(1618,358.5) scale(0.948,1)"><text x="0" y="0" font-size="9.9" fill="#000" stroke="#000" stroke-width="0.1" text-anchor="start" >91.280</text></g>
<g transform="translate(1618,391.5) scale(0.948,1)"><text x="0" y="0" font-size="9.9" fill="#000" stroke="#000" stroke-width="0.1" text-anchor="start" >90.580</text></g>
<g transform="translate(1618,424.5) scale(0.948,1)"><text x="0" y="0" font-size="9.9" fill="#000" stroke="#000" stroke-width="0.1" text-anchor="start" >89.860</text></g>
<g transform="translate(1618,457.5) scale(0.948,1)"><text x="0" y="0" font-size="9.9" fill="#000" stroke="#000" stroke-width="0.1" text-anchor="start" >89.160</text></g>
<g transform="translate(1618,490.5) scale(0.948,1)"><text x="0" y="0" font-size="9.9" fill="#000" stroke="#000" stroke-width="0.1" text-anchor="start" >88.440</text></g>
<g transform="translate(1618,523.5) scale(0.948,1)"><text x="0" y="0" font-size="9.9" fill="#000" stroke="#000" stroke-width="0.1" text-anchor="start" >87.720</text></g>
<g transform="translate(1618,556.5) scale(0.948,1)"><text x="0" y="0" font-size="9.9" fill="#000" stroke="#000" stroke-width="0.1" text-anchor="start" >87.020</text></g>
<g transform="translate(1618,589.5) scale(0.948,1)"><text x="0" y="0" font-size="9.9" fill="#000" stroke="#000" stroke-width="0.1" text-anchor="start" >86.300</text></g>
<rect x="1614" y="474.0" width="36" height="11" fill="#ff0000" shape-rendering="crispEdges"/>
<g transform="translate(1618,483.0) scale(0.948,1)"><text x="0" y="0" font-size="9.9" fill="#fff" stroke="#fff" stroke-width="0.1" text-anchor="start" >88.602</text></g>
<rect x="1614" y="509.0" width="36" height="11" fill="#ff0000" shape-rendering="crispEdges"/>
<g transform="translate(1618,518.0) scale(0.948,1)"><text x="0" y="0" font-size="9.9" fill="#fff" stroke="#fff" stroke-width="0.1" text-anchor="start" >87.843</text></g>
<rect x="1614" y="540.0" width="36" height="11" fill="#ff8c00" shape-rendering="crispEdges"/>
<g transform="translate(1618,549.0) scale(0.948,1)"><text x="0" y="0" font-size="9.9" fill="#fff" stroke="#fff" stroke-width="0.1" text-anchor="start" >87.168</text></g>
<rect x="1614" y="554.0" width="36" height="11" fill="#000000" shape-rendering="crispEdges"/>
<g transform="translate(1618,563.0) scale(0.948,1)"><text x="0" y="0" font-size="9.9" fill="#fff" stroke="#fff" stroke-width="0.1" text-anchor="start" >86.888</text></g>
<rect x="1614" y="585.0" width="36" height="11" fill="#0000ff" shape-rendering="crispEdges"/>
<g transform="translate(1618,594.0) scale(0.948,1)"><text x="0" y="0" font-size="9.9" fill="#fff" stroke="#fff" stroke-width="0.1" text-anchor="start" >86.197</text></g>
<rect x="1614" y="612.0" width="36" height="11" fill="#0000ff" shape-rendering="crispEdges"/>
<g transform="translate(1618,621.0) scale(0.948,1)"><text x="0" y="0" font-size="9.9" fill="#fff" stroke="#fff" stroke-width="0.1" text-anchor="start" >85.626</text></g>
<rect x="1613" y="625" width="2" height="1" fill="#000" shape-rendering="crispEdges"/>
<rect x="1613" y="665" width="2" height="1" fill="#000" shape-rendering="crispEdges"/>
<rect x="1613" y="710" width="2" height="1" fill="#000" shape-rendering="crispEdges"/>
<rect x="1613" y="714" width="2" height="1" fill="#000" shape-rendering="crispEdges"/>
<rect x="1613" y="795" width="2" height="1" fill="#000" shape-rendering="crispEdges"/>
<g transform="translate(1616,635) scale(0.948,1)"><text x="0" y="0" font-size="9.9" fill="#000" stroke="#000" stroke-width="0.1" text-anchor="start" >1.6306</text></g>
<g transform="translate(1616,669) scale(0.948,1)"><text x="0" y="0" font-size="9.9" fill="#000" stroke="#000" stroke-width="0.1" text-anchor="start" >0.00</text></g>
<g transform="translate(1616,708) scale(0.948,1)"><text x="0" y="0" font-size="9.9" fill="#000" stroke="#000" stroke-width="0.1" text-anchor="start" >-1.8461</text></g>
<g transform="translate(1616,724) scale(0.948,1)"><text x="0" y="0" font-size="9.9" fill="#000" stroke="#000" stroke-width="0.1" text-anchor="start" >100</text></g>
<g transform="translate(1615,735) scale(0.948,1)"><text x="0" y="0" font-size="9.9" fill="#000" stroke="#000" stroke-width="0.1" text-anchor="start" >80</text></g>
<g transform="translate(1615,759) scale(0.948,1)"><text x="0" y="0" font-size="9.9" fill="#000" stroke="#000" stroke-width="0.1" text-anchor="start" >50</text></g>
<g transform="translate(1615,787) scale(0.948,1)"><text x="0" y="0" font-size="9.9" fill="#000" stroke="#000" stroke-width="0.1" text-anchor="start" >15</text></g>
<g transform="translate(1616,793) scale(0.948,1)"><text x="0" y="0" font-size="9.9" fill="#000" stroke="#000" stroke-width="0.1" text-anchor="start" >0</text></g>
<rect x="5" y="797" width="1" height="3" fill="#000" shape-rendering="crispEdges"/>
<g transform="translate(4.5,809) scale(0.948,1)"><text x="0" y="0" font-size="9.9" fill="#000" stroke="#000" stroke-width="0.1" text-anchor="start" >18 Aug 2022</text></g>
<rect x="69" y="797" width="1" height="3" fill="#000" shape-rendering="crispEdges"/>
<g transform="translate(68.5,809) scale(0.948,1)"><text x="0" y="0" font-size="9.9" fill="#000" stroke="#000" stroke-width="0.1" text-anchor="start" >19 Aug 08:00</text></g>
<rect x="133" y="797" width="1" height="3" fill="#000" shape-rendering="crispEdges"/>
<g transform="translate(132.5,809) scale(0.948,1)"><text x="0" y="0" font-size="9.9" fill="#000" stroke="#000" stroke-width="0.1" text-anchor="start" >21 Aug 23:00</text></g>
<rect x="197" y="797" width="1" height="3" fill="#000" shape-rendering="crispEdges"/>
<g transform="translate(196.5,809) scale(0.948,1)"><text x="0" y="0" font-size="9.9" fill="#000" stroke="#000" stroke-width="0.1" text-anchor="start" >22 Aug 12:00</text></g>
<rect x="261" y="797" width="1" height="3" fill="#000" shape-rendering="crispEdges"/>
<g transform="translate(260.5,809) scale(0.948,1)"><text x="0" y="0" font-size="9.9" fill="#000" stroke="#000" stroke-width="0.1" text-anchor="start" >23 Aug 04:00</text></g>
<rect x="325" y="797" width="1" height="3" fill="#000" shape-rendering="crispEdges"/>
<g transform="translate(324.5,809) scale(0.948,1)"><text x="0" y="0" font-size="9.9" fill="#000" stroke="#000" stroke-width="0.1" text-anchor="start" >23 Aug 20:00</text></g>
<rect x="389" y="797" width="1" height="3" fill="#000" shape-rendering="crispEdges"/>
<g transform="translate(388.5,809) scale(0.948,1)"><text x="0" y="0" font-size="9.9" fill="#000" stroke="#000" stroke-width="0.1" text-anchor="start" >24 Aug 12:00</text></g>
<rect x="453" y="797" width="1" height="3" fill="#000" shape-rendering="crispEdges"/>
<g transform="translate(452.5,809) scale(0.948,1)"><text x="0" y="0" font-size="9.9" fill="#000" stroke="#000" stroke-width="0.1" text-anchor="start" >25 Aug 04:00</text></g>
<rect x="517" y="797" width="1" height="3" fill="#000" shape-rendering="crispEdges"/>
<g transform="translate(516.5,809) scale(0.948,1)"><text x="0" y="0" font-size="9.9" fill="#000" stroke="#000" stroke-width="0.1" text-anchor="start" >25 Aug 20:00</text></g>
<rect x="581" y="797" width="1" height="3" fill="#000" shape-rendering="crispEdges"/>
<g transform="translate(580.5,809) scale(0.948,1)"><text x="0" y="0" font-size="9.9" fill="#000" stroke="#000" stroke-width="0.1" text-anchor="start" >26 Aug 12:00</text></g>
<rect x="645" y="797" width="1" height="3" fill="#000" shape-rendering="crispEdges"/>
<g transform="translate(644.5,809) scale(0.948,1)"><text x="0" y="0" font-size="9.9" fill="#000" stroke="#000" stroke-width="0.1" text-anchor="start" >29 Aug 00:00</text></g>
<rect x="709" y="797" width="1" height="3" fill="#000" shape-rendering="crispEdges"/>
<g transform="translate(708.5,809) scale(0.948,1)"><text x="0" y="0" font-size="9.9" fill="#000" stroke="#000" stroke-width="0.1" text-anchor="start" >29 Aug 16:00</text></g>
<rect x="773" y="797" width="1" height="3" fill="#000" shape-rendering="crispEdges"/>
<g transform="translate(772.5,809) scale(0.948,1)"><text x="0" y="0" font-size="9.9" fill="#000" stroke="#000" stroke-width="0.1" text-anchor="start" >30 Aug 08:00</text></g>
<rect x="837" y="797" width="1" height="3" fill="#000" shape-rendering="crispEdges"/>
<g transform="translate(836.5,809) scale(0.948,1)"><text x="0" y="0" font-size="9.9" fill="#000" stroke="#000" stroke-width="0.1" text-anchor="start" >31 Aug 00:00</text></g>
<rect x="901" y="797" width="1" height="3" fill="#000" shape-rendering="crispEdges"/>
<g transform="translate(900.5,809) scale(0.948,1)"><text x="0" y="0" font-size="9.9" fill="#000" stroke="#000" stroke-width="0.1" text-anchor="start" >31 Aug 16:00</text></g>
<rect x="965" y="797" width="1" height="3" fill="#000" shape-rendering="crispEdges"/>
<g transform="translate(964.5,809) scale(0.948,1)"><text x="0" y="0" font-size="9.9" fill="#000" stroke="#000" stroke-width="0.1" text-anchor="start" >1 Sep 08:00</text></g>
<rect x="1029" y="797" width="1" height="3" fill="#000" shape-rendering="crispEdges"/>
<g transform="translate(1028.5,809) scale(0.948,1)"><text x="0" y="0" font-size="9.9" fill="#000" stroke="#000" stroke-width="0.1" text-anchor="start" >2 Sep 00:00</text></g>
<rect x="1093" y="797" width="1" height="3" fill="#000" shape-rendering="crispEdges"/>
<g transform="translate(1092.5,809) scale(0.948,1)"><text x="0" y="0" font-size="9.9" fill="#000" stroke="#000" stroke-width="0.1" text-anchor="start" >2 Sep 16:00</text></g>
<rect x="1157" y="797" width="1" height="3" fill="#000" shape-rendering="crispEdges"/>
<g transform="translate(1156.5,809) scale(0.948,1)"><text x="0" y="0" font-size="9.9" fill="#000" stroke="#000" stroke-width="0.1" text-anchor="start" >5 Sep 04:00</text></g>
<rect x="1221" y="797" width="1" height="3" fill="#000" shape-rendering="crispEdges"/>
<g transform="translate(1220.5,809) scale(0.948,1)"><text x="0" y="0" font-size="9.9" fill="#000" stroke="#000" stroke-width="0.1" text-anchor="start" >5 Sep 22:00</text></g>
<rect x="1285" y="797" width="1" height="3" fill="#000" shape-rendering="crispEdges"/>
<g transform="translate(1284.5,809) scale(0.948,1)"><text x="0" y="0" font-size="9.9" fill="#000" stroke="#000" stroke-width="0.1" text-anchor="start" >6 Sep 12:00</text></g>
</svg></body></html>
